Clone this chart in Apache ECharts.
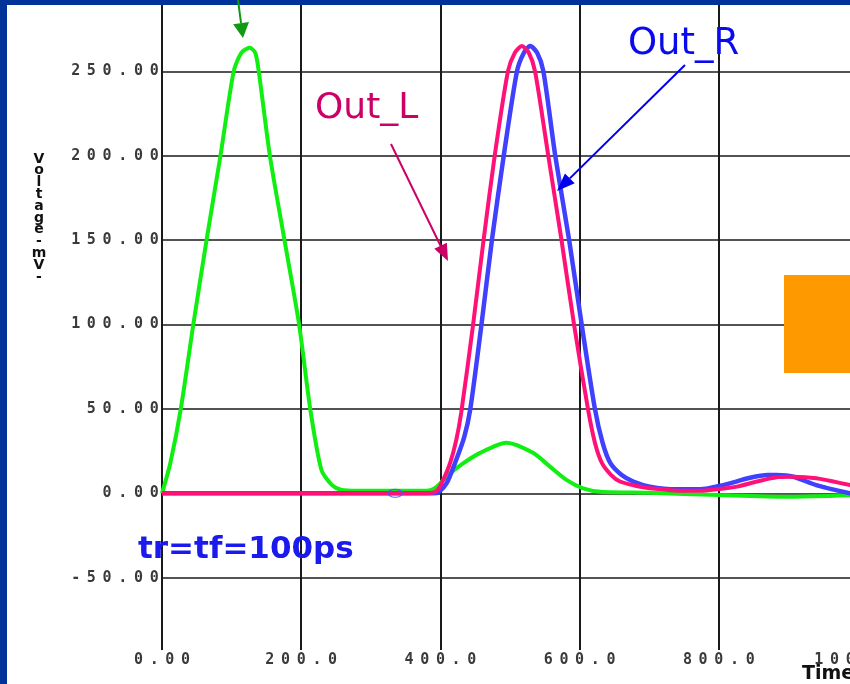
<!DOCTYPE html>
<html>
<head>
<meta charset="utf-8">
<script src="https://cdn.jsdelivr.net/npm/echarts@6/dist/echarts.min.js"></script>
<style>
  html, body { margin: 0; padding: 0; background: #fff; }
  #chart { width: 850px; height: 684px; }
</style>
</head>
<body>
<div id="chart"></div>
<script>
  // input pulse (green)
  const inTime = [0, 12, 27, 45, 64, 84, 103, 114, 126, 134, 139, 155, 176, 197, 213, 229, 244, 258, 280, 340, 380, 395, 409, 430, 457, 495, 533, 557, 581, 605, 630, 700, 800, 900, 1000]
  const inVolt = [0, 18, 50, 100, 150, 200, 250, 261, 264, 261, 250, 200, 150, 100, 50, 14, 5, 2, 1.5, 1.5, 1.5, 4, 10, 17, 24, 30, 24, 16, 8, 3, 1, 0.3, -1, -2, -1]
  // Out_L (pink)
  const outLTime = [0, 380, 395, 404, 414, 423, 430, 447, 462, 478, 497, 507, 517, 527, 536, 555, 574, 592, 612, 622, 632, 645, 658, 680, 701, 749, 773, 797, 826, 855, 883, 907, 940, 989, 1000]
  const outLVolt = [0, 0, 1.5, 8, 18, 32, 48, 100, 150, 200, 250, 261, 265, 261, 250, 200, 150, 100, 50, 30, 18, 11, 7, 4.5, 3, 1.5, 1.5, 2.4, 4, 7, 9.5, 9.8, 8.9, 4.9, 4]
  // Out_R (blue)
  const outRTime = [0, 390, 397, 409, 421, 434, 443, 459, 474, 491, 510, 520, 529, 539, 548, 565, 585, 603, 622, 633, 644, 660, 677, 701, 739, 773, 806, 845, 870, 883, 907, 940, 989, 1000]
  const outRVolt = [0, 0, 0.5, 6, 18, 33, 50, 100, 150, 200, 250, 261, 265, 261, 250, 200, 150, 100, 50, 30, 18, 11, 7, 4, 2.4, 2.4, 4.9, 9.2, 10.8, 10.8, 9.8, 4.9, 0, -0.5]
  // marker on the blue trace
  const markerTime = [335]
  const markerVolt = [0]

  const xTickLabels = ['0.00', '200.0', '400.0', '600.0', '800.0', '1000.0']
  const yName = 'Voltage-mV-'
  const xName = 'Time-ps-'

  const zip = (xs, ys) => xs.map((x, i) => [x, ys[i]])
  // the tick font is a wide bitmap font, so every char gets its own cell
  const spaced = s => s.split('').map(c => '{c|' + c + '}').join('')
  const tickRich = {
    c: {width: 15.7, align: 'center', fontFamily: 'DejaVu Sans Mono', fontWeight: 'bold', fontSize: 15, lineHeight: 14, color: '#3a3a3a'}
  }

  function arrow (x1, y1, x2, y2, color, w, len, half) {
    const a = Math.atan2(y2 - y1, x2 - x1)
    const bx = x2 - len * Math.cos(a)
    const by = y2 - len * Math.sin(a)
    return [
      {type: 'line', z: 100, shape: {x1: x1, y1: y1, x2: bx, y2: by}, style: {stroke: color, lineWidth: w}},
      {type: 'polygon', z: 100, shape: {points: [[x2, y2], [bx + half * Math.sin(a), by - half * Math.cos(a)], [bx - half * Math.sin(a), by + half * Math.cos(a)]]}, style: {fill: color}}
    ]
  }

  function label (text, x, y, color, size, weight, family) {
    return {
      type: 'text', z: 100, x: x, y: y,
      style: {text: text, fill: color, fontSize: size, fontWeight: weight, fontFamily: family, align: 'left', verticalAlign: 'middle', textAlign: 'left', textVerticalAlign: 'middle'}
    }
  }

  const lineSeries = (name, data, color, width) => ({
    name: name,
    type: 'line',
    data: data,
    showSymbol: false,
    symbol: 'none',
    smooth: 0.25,
    lineStyle: {color: color, width: width},
    itemStyle: {color: color}
  })

  const chart = echarts.init(document.getElementById('chart'))
  chart.setOption({
    animation: false,
    backgroundColor: '#fff',
    grid: {left: 162, top: 5, width: 696, height: 645, containLabel: false, outerBoundsMode: 'none'},
    xAxis: {
      type: 'value',
      min: 0,
      max: 1000,
      splitNumber: 5,
      minInterval: 200,
      maxInterval: 200,
      axisLine: {show: false},
      axisTick: {show: false},
      axisLabel: {margin: 3, formatter: v => spaced(xTickLabels[Math.round(v / 200)] || ''), rich: tickRich},
      splitLine: {show: true, lineStyle: {color: '#1a1a1a', width: 2}}
    },
    yAxis: {
      type: 'value',
      min: -92.8,
      max: 289.3,
      splitNumber: 8,
      minInterval: 50,
      maxInterval: 50,
      axisLine: {show: false},
      axisTick: {show: false},
      axisLabel: {margin: 0, showMinLabel: false, showMaxLabel: false, formatter: v => spaced(v.toFixed(2)), rich: tickRich},
      splitLine: {show: true, showMinLine: false, showMaxLine: false, lineStyle: {color: '#1a1a1a', width: 1.5}}
    },
    series: [
      lineSeries('Input', zip(inTime, inVolt), '#11ee11', 4),
      lineSeries('Out_R', zip(outRTime, outRVolt), '#4040ff', 4.5),
      lineSeries('Out_L', zip(outLTime, outLVolt), '#ff1177', 4),
      {
        type: 'scatter',
        data: zip(markerTime, markerVolt),
        symbol: 'circle',
        symbolSize: [14, 8],
        itemStyle: {color: 'rgba(0,0,0,0)', borderColor: '#5050ff', borderWidth: 1.5},
        z: 5
      }
    ],
    graphic: [
      // slide frame
      {type: 'rect', z: 100, shape: {x: 0, y: 0, width: 7, height: 684}, style: {fill: '#003399'}},
      {type: 'rect', z: 100, shape: {x: 0, y: 0, width: 850, height: 5}, style: {fill: '#003399'}},
      // orange box on the right
      {type: 'rect', z: 100, shape: {x: 784, y: 275, width: 70, height: 98}, style: {fill: '#ff9900'}},
      ...arrow(238, 0, 243, 38, '#119911', 2, 15, 8),
      ...arrow(391, 144, 448, 261, '#cc0066', 2, 17, 7),
      ...arrow(685, 65, 557, 191, '#0000ee', 2, 18, 7),
      label('Out_L', 315, 109, '#cc0066', 36, 'normal', 'DejaVu Sans'),
      label('Out_R', 628, 44, '#0a0aee', 37, 'normal', 'DejaVu Sans'),
      label('tr=tf=100ps', 138, 550, '#1a1aee', 31, 'bold', 'DejaVu Sans'),
      label(xName, 802, 674, '#111', 19, 'bold', 'DejaVu Sans'),
      {
        type: 'text', z: 100, x: 39, y: 153,
        style: {text: yName.split('').join('\n'), fill: '#111', fontSize: 14, fontWeight: 'bold', fontFamily: 'DejaVu Sans', lineHeight: 11.8, align: 'center', verticalAlign: 'top', textAlign: 'center', textVerticalAlign: 'top'}
      }
    ]
  })
</script>
</body>
</html>
